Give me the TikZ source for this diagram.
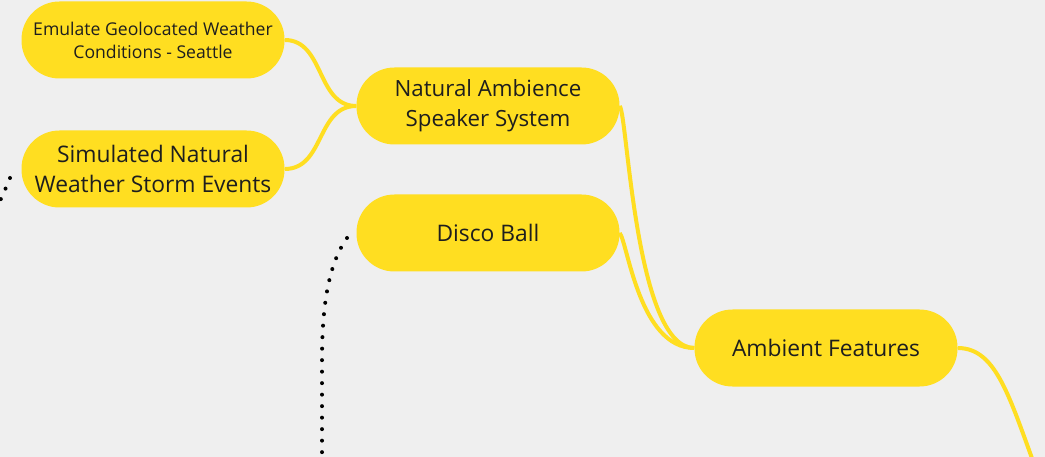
\documentclass[tikz,border=0pt]{standalone}
\usepackage{fontspec}
\setmainfont{Open Sans}
\usepackage{tikz}
\definecolor{mapyellow}{HTML}{FFDE21}
\definecolor{mapbg}{HTML}{EFEFEF}
\definecolor{maptext}{HTML}{1E1E1E}
\tikzset{
  pill/.style={fill=mapyellow, rounded corners=38pt, minimum width=263pt,
    minimum height=77pt, align=center, text=maptext, inner sep=0pt},
  link/.style={draw=mapyellow, line width=4pt},
  dotline/.style={draw=black, line width=4pt, line cap=round,
    dash pattern=on 0pt off 11.5pt}
}

\begin{document}
\begin{tikzpicture}[x=1pt,y=-1pt]
    \fill[mapbg] (0,0) rectangle (1045,457);
    \clip (0,0) rectangle (1045,457);
    % dotted leftovers
    \coordinate (d1) at (10,178);
    \coordinate (d2) at (-6,214);
    \coordinate (d3) at (347,238);
    \coordinate (d4) at (322,470);
    \draw[dotline] (d1) .. controls (5,190) .. (d2);
    \draw[dotline] (d3) .. controls (330,262) and (322,300) .. (322,360) -- (d4);
    % links
    \node[pill, font=\fontsize{17.6}{23}\selectfont] (emu) at (153,40) {Emulate Geolocated Weather\\Conditions - Seattle};
    \node[pill, font=\fontsize{22.8}{30}\selectfont] (sim) at (153,169) {Simulated Natural\\Weather Storm Events};
    \node[pill, font=\fontsize{22.3}{30}\selectfont] (nat) at (488,106) {Natural Ambience\\Speaker System};
    \node[pill, font=\fontsize{22.8}{30}\selectfont] (disco) at (488,233) {Disco Ball};
    \node[pill, font=\fontsize{22.8}{30}\selectfont] (amb) at (826,348) {Ambient Features};
    \coordinate (far) at (1040,480);
    \draw[link] (emu.east) .. controls +(40,0) and +(-40,0) .. (nat.west);
    \draw[link] (sim.east) .. controls +(40,0) and +(-40,0) .. (nat.west);
    \draw[link] (nat.east) .. controls +(8,10) and +(-59,0) .. (amb.west);
    \draw[link] (disco.east) .. controls +(8,10) and +(-55,0) .. (amb.west);
    \draw[link] (amb.east) .. controls +(40,0) and +(-30,-80) .. (far);
\end{tikzpicture}
\end{document}
